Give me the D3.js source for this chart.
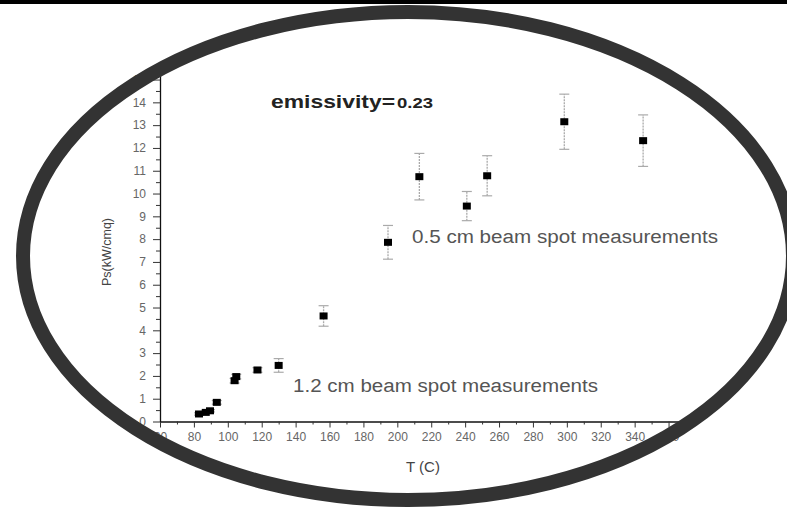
<!DOCTYPE html>
<html>
<head>
<meta charset="utf-8">
<script src="https://cdn.jsdelivr.net/npm/d3@7"></script>
<style>
  html, body { margin: 0; padding: 0; background: #fff; }
  svg { display: block; }
  text { font-family: "Liberation Sans", Arial, sans-serif; }
</style>
</head>
<body>
<svg id="chart" width="787" height="508"></svg>
<script>
// Measured surface power vs temperature
const temperature = [83, 87, 89.5, 93.5, 104, 105, 117.5, 130, 156.5, 194.5, 213, 241, 253, 298.5, 345];
const power       = [0.33, 0.40, 0.47, 0.84, 1.79, 1.97, 2.26, 2.46, 4.63, 7.86, 10.74, 9.45, 10.78, 13.15, 12.32];
const powerErr    = [0.05, 0.05, 0.05, 0.08, 0.1, 0.1, 0.1, 0.3, 0.45, 0.74, 1.02, 0.64, 0.88, 1.21, 1.13];

const xMajorTicks = d3.range(60, 361, 20);
const xMinorTicks = d3.range(70, 361, 20);
const yMajorTicks = d3.range(0, 16, 1);
const yMinorTicks = d3.range(0.5, 15, 1);

const annotations = [
  { text: "0.5 cm beam spot measurements", x: 412, y: 243, len: 306 },
  { text: "1.2 cm beam spot measurements", x: 293, y: 392, len: 305 }
];

const svg = d3.select("#chart");

const x = d3.scaleLinear().domain([60, 370]).range([160, 685.5]);
const y = d3.scaleLinear().domain([0, 15.2]).range([421.5, 75]);

// axes
const gx = svg.append("g").attr("transform", `translate(0,${y(0)})`);
gx.call(d3.axisBottom(x).tickValues(xMajorTicks).tickSize(6).tickPadding(5).tickSizeOuter(0));
gx.append("g").call(d3.axisBottom(x).tickValues(xMinorTicks).tickSize(3).tickFormat("").tickSizeOuter(0))
  .select(".domain").remove();

const gy = svg.append("g").attr("transform", `translate(${x(60)},0)`);
gy.call(d3.axisLeft(y).tickValues(yMajorTicks).tickSize(7).tickPadding(7).tickSizeOuter(0));
gy.append("g").call(d3.axisLeft(y).tickValues(yMinorTicks).tickSize(4).tickFormat("").tickSizeOuter(0))
  .select(".domain").remove();

svg.selectAll(".tick text")
  .attr("font-size", 12)
  .attr("font-family", "Liberation Sans, Arial, sans-serif")
  .attr("fill", "#666");
svg.selectAll(".domain").attr("stroke", "#111").attr("stroke-width", 1.3);
svg.selectAll(".tick line").attr("stroke", "#333");

// axis titles
svg.append("text")
  .attr("x", 423).attr("y", 472)
  .attr("text-anchor", "middle")
  .attr("font-size", 15).attr("fill", "#444")
  .text("T (C)");

svg.append("text")
  .attr("transform", "translate(111,252) rotate(-90)")
  .attr("text-anchor", "middle")
  .attr("font-size", 12.5).attr("fill", "#444")
  .text("Ps(kW/cmq)");

// error bars
const pts = temperature.map((t, i) => ({ t, p: power[i], e: powerErr[i] }));
const eb = svg.append("g");
eb.selectAll("line.bar").data(pts).join("line")
  .attr("x1", d => x(d.t)).attr("x2", d => x(d.t))
  .attr("y1", d => y(d.p - d.e)).attr("y2", d => y(d.p + d.e))
  .attr("stroke", "#aaa").attr("stroke-width", 1.3).attr("stroke-dasharray", "2,1");
eb.selectAll("line.capTop").data(pts).join("line")
  .attr("x1", d => x(d.t) - 5).attr("x2", d => x(d.t) + 5)
  .attr("y1", d => y(d.p + d.e)).attr("y2", d => y(d.p + d.e))
  .attr("stroke", "#aaa").attr("stroke-width", 1.2);
eb.selectAll("line.capBot").data(pts).join("line")
  .attr("x1", d => x(d.t) - 5).attr("x2", d => x(d.t) + 5)
  .attr("y1", d => y(d.p - d.e)).attr("y2", d => y(d.p - d.e))
  .attr("stroke", "#aaa").attr("stroke-width", 1.2);

// square markers
svg.append("g").selectAll("rect").data(pts).join("rect")
  .attr("x", d => x(d.t) - 4).attr("y", d => y(d.p) - 3.5)
  .attr("width", 8).attr("height", 7)
  .attr("fill", "#000");

// labels
svg.append("text")
  .attr("x", 271).attr("y", 108)
  .attr("font-size", 18).attr("font-weight", "bold").attr("fill", "#222")
  .attr("textLength", 124).attr("lengthAdjust", "spacingAndGlyphs")
  .text("emissivity=");
svg.append("text")
  .attr("x", 397).attr("y", 108)
  .attr("font-size", 15).attr("font-weight", "bold").attr("fill", "#222")
  .attr("textLength", 36).attr("lengthAdjust", "spacingAndGlyphs")
  .text("0.23");

svg.append("g").selectAll("text").data(annotations).join("text")
  .attr("x", d => d.x).attr("y", d => d.y)
  .attr("font-size", 18).attr("fill", "#555")
  .attr("textLength", d => d.len).attr("lengthAdjust", "spacingAndGlyphs")
  .text(d => d.text);

// oval frame and top rule
svg.append("ellipse")
  .attr("cx", 408).attr("cy", 256).attr("rx", 385).attr("ry", 244)
  .attr("fill", "none").attr("stroke", "#333").attr("stroke-width", 14);
svg.append("rect")
  .attr("x", 0).attr("y", 0).attr("width", 787).attr("height", 4)
  .attr("fill", "#000");
</script>
</body>
</html>
